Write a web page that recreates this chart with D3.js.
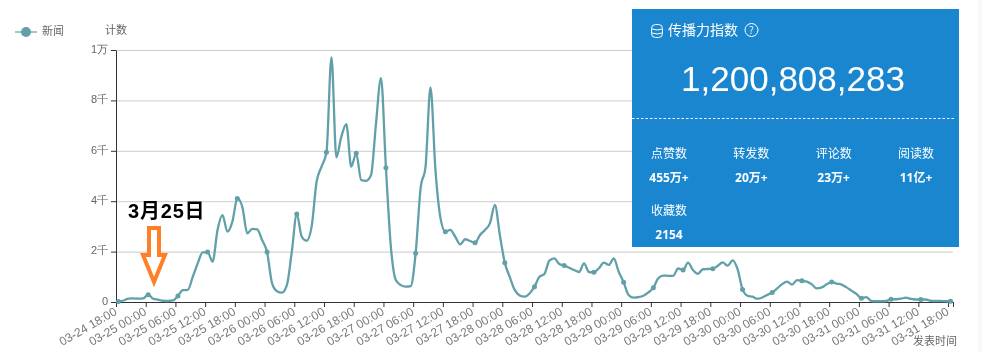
<!DOCTYPE html>
<html>
<head>
<meta charset="utf-8">
<script src="https://cdn.jsdelivr.net/npm/d3@7"></script>
<style>
    html, body { margin: 0; padding: 0; background: #fff; }
    svg { display: block; font-family: "Open Sans", "Noto Sans CJK SC", sans-serif; filter: blur(0.35px); }
</style>
</head>
<body>
<svg id="chart" width="982" height="352"></svg>
<script>
// Hourly categories, 03-24 18:00 to 03-31 18:00.
const categories = d3.timeHour.range(new Date(2020, 2, 24, 18), new Date(2020, 2, 31, 19))
    .map(d3.timeFormat('%m-%d %H:%M'));

// News count per hour.
const newsValues = [
    20, 60, 130, 140, 130, 140, 290, 130, 90, 50, 40, 60,
    240, 470, 480, 1000, 1535, 1970, 1980, 1600, 2860, 3450, 2790, 3190,
    4110, 3780, 2720, 2900, 2880, 2460, 1980, 750, 430, 370, 670, 2000,
    3490, 2590, 2430, 2990, 4770, 5370, 5940, 9710, 5740, 6560, 7060, 5370,
    5900, 4840, 4810, 5040, 7090, 8880, 5330, 2190, 870, 670, 610, 630,
    1930, 4510, 5370, 8520, 5240, 3350, 2790, 2860, 2590, 2290, 2490, 2420,
    2350, 2660, 2860, 3120, 3850, 2660, 1560, 1000, 480, 260, 210, 340,
    610, 1000, 1110, 1640, 1730, 1510, 1450, 1360, 1270, 1190, 1530, 1190,
    1180, 1340, 1560, 1470, 1730, 1200, 780, 280, 170, 190, 250, 380,
    570, 940, 1050, 1040, 1040, 1330, 1270, 1560, 1270, 1120, 1300, 1310,
    1320, 1440, 1570, 1440, 1650, 1300, 500, 250, 210, 130, 180, 280,
    380, 540, 710, 810, 690, 870, 840, 810, 700, 540, 580, 700,
    790, 730, 690, 580, 450, 320, 150, 190, 40, 30, 30, 40,
    110, 110, 130, 170, 120, 100, 100, 100, 50, 40, 40, 30,
    30
];

const yTicks = [0, 2000, 4000, 6000, 8000, 10000];
const yTickLabels = ['0', '2千', '4千', '6千', '8千', '1万'];

// Stats shown in the blue panel.
const statNames = ['点赞数', '转发数', '评论数', '阅读数', '收藏数'];
const statValues = ['455万+', '20万+', '23万+', '11亿+', '2154'];
const totalIndex = '1,200,808,283';

const lineColor = '#61a0a8';
const textColor = '#666';
const panelColor = '#1a86d0';

const chart = d3.select('#chart');

// Ticks sit on the band edges, points in the band centres.
const x = d3.scaleLinear().domain([0, categories.length]).range([116, 953]);
const y = d3.scaleLinear().domain([0, 10000]).range([302, 50]);

// Grid lines first, so everything else goes over them.
chart.append('g').selectAll('line').data(yTicks.slice(1))
    .enter().append('line')
    .attr('x1', x.range()[0]).attr('x2', x.range()[1])
    .attr('y1', function(d) { return y(d) + 0.5; })
    .attr('y2', function(d) { return y(d) + 0.5; })
    .style('stroke', '#ccc');

// Y axis.
const yAxis = chart.append('g')
    .attr('transform', 'translate(116,0)')
    .call(d3.axisLeft(y).tickValues(yTicks).tickSize(5).tickSizeOuter(0).tickPadding(3)
        .tickFormat(function(d, i) { return yTickLabels[i]; }));
yAxis.selectAll('text').attr('dy', '0.2em');

// X axis, one label every 6 hours plus a closing tick.
const xAxis = chart.append('g')
    .attr('transform', 'translate(0,302)')
    .call(d3.axisBottom(x)
        .tickValues(d3.range(0, categories.length, 6).concat(categories.length))
        .tickSize(5).tickSizeOuter(0)
        .tickFormat(function(d) { return categories[d] || ''; }));
xAxis.selectAll('text')
    .attr('text-anchor', 'end')
    .attr('transform', 'rotate(-30)')
    .attr('x', 0).attr('y', 0).attr('dx', '-5px').attr('dy', '11px');

[yAxis, xAxis].forEach(function(axis) {
    axis.selectAll('path, line').style('stroke', '#333');
    axis.selectAll('text').style('fill', textColor).style('font-size', '11px');
});
xAxis.selectAll('text').style('font-size', '12px').style('fill', '#777');

// Axis names.
chart.append('text').attr('x', 105).attr('y', 34).text('计数')
    .style('fill', textColor).style('font-size', '11px');
chart.append('text').attr('x', 913).attr('y', 345).text('发表时间')
    .style('fill', textColor).style('font-size', '11px');

// The news line and its 6-hourly markers.
const line = d3.line()
    .x(function(d, i) { return x(i + 0.5); })
    .y(function(d) { return y(d); })
    .curve(d3.curveMonotoneX);

chart.append('path').datum(newsValues)
    .attr('d', line)
    .style('fill', 'none').style('stroke', lineColor).style('stroke-width', 2.3);

chart.selectAll('.point').data(d3.range(0, newsValues.length, 6))
    .enter().append('circle')
    .attr('class', 'point')
    .attr('cx', function(i) { return x(i + 0.5); })
    .attr('cy', function(i) { return y(newsValues[i]); })
    .attr('r', 2.5)
    .style('fill', lineColor);

// Legend.
const legend = chart.append('g');
legend.append('line').attr('x1', 15).attr('x2', 37).attr('y1', 32).attr('y2', 32)
    .style('stroke', lineColor).style('stroke-width', 2).style('opacity', 0.6);
legend.append('circle').attr('cx', 26).attr('cy', 32).attr('r', 5).style('fill', lineColor);
legend.append('text').attr('x', 42).attr('y', 35).text('新闻')
    .style('fill', textColor).style('font-size', '11px');

// Hand drawn annotation on top of the chart.
chart.append('text').attr('x', 128).attr('y', 218).text('3月25日')
    .style('font-family', '"Liberation Sans", "Noto Sans CJK SC", sans-serif')
    .style('font-weight', 'bold').style('font-size', '20px').style('letter-spacing', '0.8px')
    .style('fill', '#000');
chart.append('path')
    .attr('d', 'M149,228 H159 V255 H165 L154,282 L143,255 H149 Z')
    .style('fill', '#fff').style('stroke', '#ff7f27').style('stroke-width', 4);

// Blue panel.
const panel = chart.append('g');
panel.append('rect').attr('x', 632).attr('y', 9).attr('width', 327).attr('height', 238)
    .style('fill', panelColor);
panel.append('line').attr('x1', 632).attr('x2', 955).attr('y1', 118.5).attr('y2', 118.5)
    .style('stroke', '#fff').style('stroke-dasharray', '2.5,2');

// Database icon.
const icon = panel.append('g').style('fill', 'none').style('stroke', '#fff');
icon.append('rect').attr('x', 651.5).attr('y', 24.5).attr('width', 11).attr('height', 13).attr('rx', 4);
icon.append('path').attr('d', 'M652,29 Q657,31 662,29 M652,33 Q657,35 662,33');

panel.append('text').attr('x', 668).attr('y', 35).text('传播力指数')
    .style('fill', '#fff').style('font-size', '14px');
panel.append('circle').attr('cx', 751.5).attr('cy', 30).attr('r', 6.5)
    .style('fill', 'none').style('stroke', '#fff');
panel.append('text').attr('x', 751.5).attr('y', 34).text('?')
    .style('fill', '#fff').style('font-size', '10px').style('text-anchor', 'middle');

panel.append('text').attr('x', 793).attr('y', 91).text(totalIndex)
    .style('font-family', '"Liberation Sans", sans-serif')
    .style('fill', '#fff').style('font-size', '35px').style('text-anchor', 'middle');

const statX = d3.scalePoint().domain([0, 1, 2, 3]).range([669, 916]);
const stats = panel.selectAll('.stat').data(statNames)
    .enter().append('g').attr('class', 'stat')
    .attr('transform', function(d, i) { return 'translate(' + statX(i % 4) + ',' + (i < 4 ? 0 : 57) + ')'; })
    .style('fill', '#fff').style('text-anchor', 'middle').style('font-size', '12px');
stats.append('text').attr('y', 158).text(function(d) { return d; });
stats.append('text').attr('y', 182).style('font-weight', 'bold')
    .text(function(d, i) { return statValues[i]; });

// Thin page edge on the right.
chart.append('rect').attr('x', 978).attr('y', 0).attr('width', 4).attr('height', 352)
    .style('fill', '#f8f8f8');
</script>
</body>
</html>
